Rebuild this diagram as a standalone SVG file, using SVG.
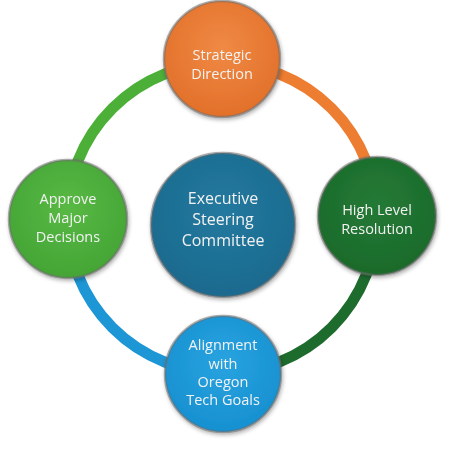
<svg xmlns="http://www.w3.org/2000/svg" width="450" height="450" viewBox="0 0 450 450">
<defs>
<radialGradient id="gO" cx="50%" cy="40%" r="60%"><stop offset="0" stop-color="#F08A44"/><stop offset="1" stop-color="#E2702A"/></radialGradient>
<radialGradient id="gL" cx="50%" cy="40%" r="60%"><stop offset="0" stop-color="#58B944"/><stop offset="1" stop-color="#44A535"/></radialGradient>
<radialGradient id="gD" cx="50%" cy="40%" r="60%"><stop offset="0" stop-color="#247A35"/><stop offset="1" stop-color="#1B6A2B"/></radialGradient>
<radialGradient id="gB" cx="50%" cy="40%" r="60%"><stop offset="0" stop-color="#28A3E0"/><stop offset="1" stop-color="#1790D0"/></radialGradient>
<radialGradient id="gC" cx="50%" cy="40%" r="60%"><stop offset="0" stop-color="#23799F"/><stop offset="1" stop-color="#1B6A8E"/></radialGradient>
<filter id="sh" x="-20%" y="-20%" width="140%" height="140%"><feGaussianBlur in="SourceAlpha" stdDeviation="2"/><feOffset dx="1" dy="2"/><feComponentTransfer><feFuncA type="linear" slope="0.35"/></feComponentTransfer><feMerge><feMergeNode/><feMergeNode in="SourceGraphic"/></feMerge></filter>
</defs>
<style>
.arc{fill:none;stroke-width:11}
.edge{stroke:#6b6b6b;stroke-width:2.5;stroke-opacity:0.55}
.t{font-family:"Open Sans","Liberation Sans",sans-serif;fill:#F2F2F2;text-anchor:middle;font-size:14.5px}
.tc{font-size:16px}
</style>
<rect width="450" height="450" fill="#ffffff"/>
<g id="connectors">
<path class="arc" stroke="#ED7D31" d="M222,63 A155,155 0 0 1 377,218"/>
<path class="arc" stroke="#1E6B2E" d="M377,218 A155,155 0 0 1 222,373"/>
<path class="arc" stroke="#1C96D4" d="M222,373 A155,155 0 0 1 67,218"/>
<path class="arc" stroke="#4CAF38" d="M67,218 A155,155 0 0 1 222,63"/>
</g>
<g id="strategic" filter="url(#sh)">
<circle cx="222" cy="59" r="58" fill="url(#gO)" class="edge"/>
<text class="t" x="222" y="60">Strategic</text>
<text class="t" x="222" y="79">Direction</text>
</g>
<g id="approve" filter="url(#sh)">
<circle cx="68" cy="219" r="59" fill="url(#gL)" class="edge"/>
<text class="t" x="68" y="204">Approve</text>
<text class="t" x="68" y="223">Major</text>
<text class="t" x="68" y="242">Decisions</text>
</g>
<g id="highlevel" filter="url(#sh)">
<circle cx="377" cy="216" r="59" fill="url(#gD)" class="edge"/>
<text class="t" x="377" y="215">High Level</text>
<text class="t" x="377" y="234">Resolution</text>
</g>
<g id="alignment" filter="url(#sh)">
<circle cx="223" cy="374" r="58" fill="url(#gB)" class="edge"/>
<text class="t" x="223" y="350">Alignment</text>
<text class="t" x="223" y="369">with</text>
<text class="t" x="223" y="387">Oregon</text>
<text class="t" x="223" y="405">Tech Goals</text>
</g>
<g id="executive" filter="url(#sh)">
<circle cx="223" cy="225" r="72" fill="url(#gC)" class="edge"/>
<text class="t tc" x="223" y="204">Executive</text>
<text class="t tc" x="223" y="225">Steering</text>
<text class="t tc" x="223" y="246">Committee</text>
</g>
</svg>
